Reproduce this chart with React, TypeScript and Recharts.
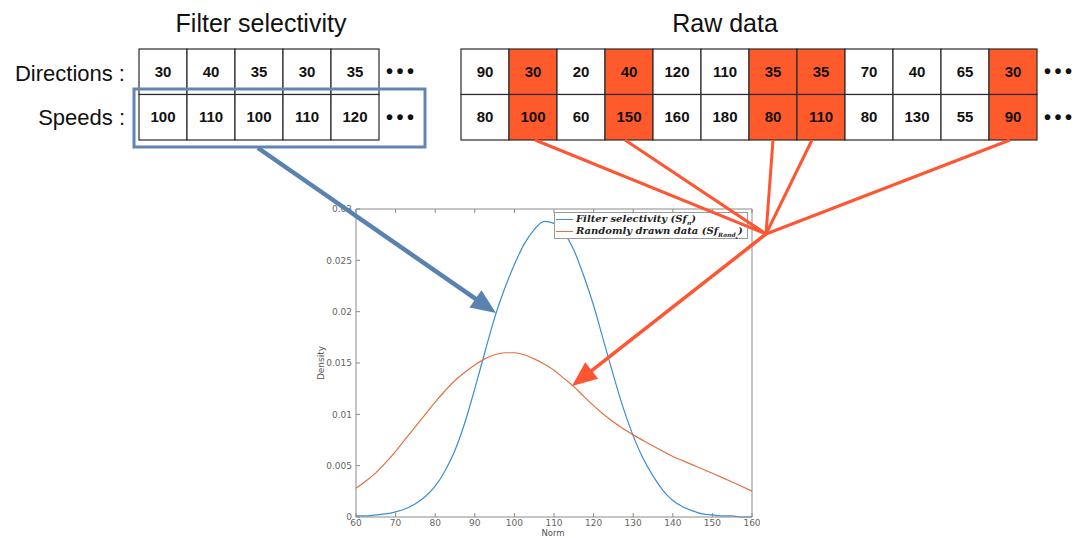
import React from 'react';
import { LineChart, Line, XAxis, YAxis } from 'recharts';

// x positions (Norm)
const norm = [
  60, 62.5, 65, 67.5, 70, 72.5, 75, 77.5, 80, 82.5, 85, 87.5, 90, 92.5, 95, 97.5, 100,
  102.5, 105, 107.5, 110, 112.5, 115, 117.5, 120, 122.5, 125, 127.5, 130, 132.5, 135,
  137.5, 140, 142.5, 145, 147.5, 150, 152.5, 155, 157.5, 160,
];

const filterDensity = [
  0.0001, 0.0001, 0.0002, 0.0003, 0.0005, 0.0008, 0.0013, 0.002, 0.003, 0.0045, 0.0065,
  0.0092, 0.0125, 0.016, 0.0194, 0.0222, 0.0246, 0.0266, 0.028, 0.0288, 0.0286, 0.0277,
  0.026, 0.0235, 0.0206, 0.0172, 0.0138, 0.0106, 0.0079, 0.0057, 0.004, 0.0026, 0.0016,
  0.001, 0.0006, 0.0003, 0.0002, 0.0001, 0.0001, 0.0, 0.0,
];

const randomDensity = [
  0.0028, 0.0035, 0.0043, 0.0053, 0.0064, 0.0076, 0.0088, 0.01, 0.0112, 0.0123, 0.0133,
  0.0141, 0.0148, 0.0154, 0.0158, 0.016, 0.016, 0.0158, 0.0154, 0.0149, 0.0143, 0.0135,
  0.0127, 0.01175, 0.01085, 0.01, 0.00925, 0.0086, 0.008, 0.00745, 0.00692, 0.0064, 0.0059,
  0.00549, 0.00508, 0.00467, 0.00426, 0.00384, 0.00341, 0.00297, 0.00252,
];

const xTicks = [60, 70, 80, 90, 100, 110, 120, 130, 140, 150, 160];
const yTicks = [0, 0.005, 0.01, 0.015, 0.02, 0.025, 0.03];

// tables
const directions = [30, 40, 35, 30, 35];
const speeds = [100, 110, 100, 110, 120];
const rawDirections = [90, 30, 20, 40, 120, 110, 35, 35, 70, 40, 65, 30];
const rawSpeeds = [80, 100, 60, 150, 160, 180, 80, 110, 80, 130, 55, 90];
const drawnIdx = [1, 3, 6, 7, 11];

const data = norm.map((x, i) => ({ x, filter: filterDensity[i], random: randomDensity[i] }));

const BLUE = '#3a8fd2';
const ORANGE = '#e4703f';
const CELL_ORANGE = '#ff5a2c';
const ARROW_ORANGE = '#fe5532';
const ARROW_BLUE = '#5a82b0';
const AXIS = '#8a8a8a';
const SANS = '"Liberation Sans", Arial, sans-serif';

const CELL = 48;
const ROW_TOP = 49;
const ROW_H = 45.5;

function arrowParts(x1: number, y1: number, x2: number, y2: number, headLen: number, headW: number) {
  const dx = x2 - x1;
  const dy = y2 - y1;
  const len = Math.hypot(dx, dy);
  const ux = dx / len;
  const uy = dy / len;
  const bx = x2 - ux * headLen;
  const by = y2 - uy * headLen;
  const px = -uy * (headW / 2);
  const py = ux * (headW / 2);
  return {
    shaftEnd: [bx + ux * 2, by + uy * 2],
    head: `${x2},${y2} ${bx + px},${by + py} ${bx - px},${by - py}`,
  };
}

function Table({ x, rows, highlight = [] }: { x: number; rows: number[][]; highlight?: number[] }) {
  return (
    <g>
      {rows.map((row, r) =>
        row.map((v, c) => (
          <g key={`${r}-${c}`}>
            <rect
              x={x + c * CELL}
              y={ROW_TOP + r * ROW_H}
              width={CELL}
              height={ROW_H}
              fill={highlight.includes(c) ? CELL_ORANGE : '#fff'}
              stroke="#2b2b2b"
              strokeWidth={1.2}
            />
            <text
              x={x + c * CELL + CELL / 2}
              y={ROW_TOP + r * ROW_H + ROW_H / 2 + 5}
              textAnchor="middle"
              fontFamily={SANS}
              fontWeight="bold"
              fontSize={15}
              fill="#111"
            >
              {v}
            </text>
          </g>
        ))
      )}
    </g>
  );
}

function LegendBox() {
  const row = (color: string, label: React.ReactNode) => (
    <div style={{ display: 'flex', alignItems: 'center', height: 12.5 }}>
      <div style={{ width: 17, height: 0, borderTop: `1.3px solid ${color}`, marginRight: 3 }} />
      <span>{label}</span>
    </div>
  );
  return (
    <div
      style={{
        position: 'absolute',
        left: 554,
        top: 212,
        width: 189,
        border: '1px solid #9a9a9a',
        background: '#fff',
        padding: '0px 2px 0px 1px',
        fontFamily: '"DejaVu Serif", "Liberation Serif", serif',
        fontStyle: 'italic',
        fontWeight: 'bold',
        fontSize: 10,
        color: '#222',
        lineHeight: '12px',
        whiteSpace: 'nowrap',
      }}
    >
      {row(BLUE, <>Filter selectivity (Sf<sub style={{ fontSize: 6, lineHeight: 0 }}>n</sub>)</>)}
      {row(
        ORANGE,
        <>
          Randomly drawn data (Sf<sub style={{ fontSize: 6, lineHeight: 0 }}>Rand<sub style={{ fontSize: 4 }}>s</sub></sub>)
        </>
      )}
    </div>
  );
}

export default function App() {
  const blueArrow = arrowParts(258, 148, 496, 313, 25, 21);
  const orangeArrow = arrowParts(766, 234, 572, 386, 25, 21);
  const convergeFrom = [535, 625, 773, 812, 1010];

  return (
    <div style={{ position: 'absolute', left: 0, top: 0, width: 1076, height: 538, background: '#fff', overflow: 'hidden' }}>
      <div style={{ position: 'absolute', left: 300, top: 200 }}>
        <LineChart width={460} height={338} data={data} margin={{ top: 8, right: 7, bottom: 0, left: 0 }}>
          <XAxis
            dataKey="x"
            type="number"
            domain={[60, 160]}
            ticks={xTicks}
            height={21}
            tickSize={-4}
            tickMargin={7}
            stroke={AXIS}
            tick={{ fontSize: 9, fill: '#666', fontFamily: '"DejaVu Sans", sans-serif' }}
          />
          <XAxis
            xAxisId="top"
            dataKey="x"
            type="number"
            orientation="top"
            domain={[60, 160]}
            ticks={xTicks}
            height={1}
            tickSize={-4}
            tickFormatter={() => ''}
            stroke={AXIS}
          />
          <YAxis
            type="number"
            domain={[0, 0.03]}
            ticks={yTicks}
            width={56}
            tickSize={-4}
            tickMargin={8}
            stroke={AXIS}
            tick={{ fontSize: 9, fill: '#666', fontFamily: '"DejaVu Sans", sans-serif' }}
            tickFormatter={(v: number) => String(v)}
          />
          <YAxis
            yAxisId="right"
            type="number"
            orientation="right"
            domain={[0, 0.03]}
            ticks={yTicks}
            width={1}
            tickSize={-4}
            tickFormatter={() => ''}
            stroke={AXIS}
          />
          <Line
            type="monotone"
            dataKey="filter"
            name="Filter selectivity"
            stroke={BLUE}
            strokeWidth={1.2}
            dot={false}
            isAnimationActive={false}
          />
          <Line
            type="monotone"
            dataKey="random"
            name="Randomly drawn data"
            stroke={ORANGE}
            strokeWidth={1.2}
            dot={false}
            isAnimationActive={false}
          />
        </LineChart>
      </div>

      <LegendBox />

      {/* axis titles */}
      <div
        style={{
          position: 'absolute',
          left: 321,
          top: 363,
          transform: 'translate(-50%, -50%) rotate(-90deg)',
          fontFamily: '"DejaVu Sans", sans-serif',
          fontSize: 9,
          color: '#555',
        }}
      >
        Density
      </div>
      <div
        style={{
          position: 'absolute',
          left: 553,
          top: 529,
          transform: 'translateX(-50%)',
          fontFamily: '"DejaVu Sans", sans-serif',
          fontSize: 8.5,
          lineHeight: '9px',
          color: '#555',
        }}
      >
        Norm
      </div>

      {/* tables, titles and arrows */}
      <svg width={1076} height={538} style={{ position: 'absolute', left: 0, top: 0, pointerEvents: 'none' }}>
        <text x={261} y={32} textAnchor="middle" fontFamily={SANS} fontSize={25} fill="#111">
          Filter selectivity
        </text>
        <text x={725} y={32} textAnchor="middle" fontFamily={SANS} fontSize={25} fill="#111">
          Raw data
        </text>
        <text x={125} y={81} textAnchor="end" fontFamily={SANS} fontSize={22} fill="#111">
          Directions :
        </text>
        <text x={125} y={125} textAnchor="end" fontFamily={SANS} fontSize={22} fill="#111">
          Speeds :
        </text>

        <Table x={139} rows={[directions, speeds]} />
        <Table x={461} rows={[rawDirections, rawSpeeds]} highlight={drawnIdx} />

        {[386, 1044].map((x) =>
          [72, 118].map((y) => (
            <text key={`${x}-${y}`} x={x} y={y + 6} fontFamily={SANS} fontWeight="bold" fontSize={20} fill="#111" letterSpacing={-1}>
              • • •
            </text>
          ))
        )}

        <rect x={134} y={89} width={291} height={58} fill="none" stroke="#6186b3" strokeWidth={3} />

        {convergeFrom.map((x) => (
          <line key={x} x1={x} y1={140} x2={766} y2={234} stroke={ARROW_ORANGE} strokeWidth={3} />
        ))}
        <line x1={766} y1={234} x2={orangeArrow.shaftEnd[0]} y2={orangeArrow.shaftEnd[1]} stroke={ARROW_ORANGE} strokeWidth={3.5} />
        <polygon points={orangeArrow.head} fill={ARROW_ORANGE} />

        <line x1={258} y1={148} x2={blueArrow.shaftEnd[0]} y2={blueArrow.shaftEnd[1]} stroke={ARROW_BLUE} strokeWidth={4.5} />
        <polygon points={blueArrow.head} fill={ARROW_BLUE} />
      </svg>
    </div>
  );
}
